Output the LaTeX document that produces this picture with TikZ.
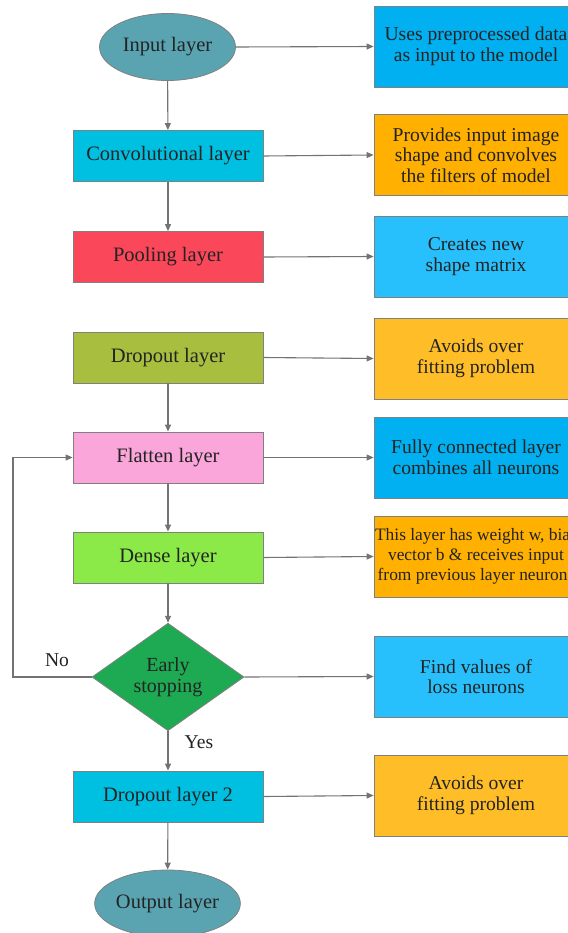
\documentclass[tikz,border=0pt]{standalone}
\usepackage{fontspec}
\setmainfont{Liberation Serif}
\usetikzlibrary{arrows.meta,shapes.geometric}
\definecolor{Teal}{RGB}{90,164,178}
\definecolor{Cyan}{RGB}{0,192,226}
\definecolor{Coral}{RGB}{250,72,90}
\definecolor{Olive}{RGB}{168,190,62}
\definecolor{Pink}{RGB}{250,166,218}
\definecolor{Lime}{RGB}{140,234,72}
\definecolor{Leaf}{RGB}{30,170,82}
\definecolor{SkyA}{RGB}{0,176,240}
\definecolor{SkyB}{RGB}{40,192,252}
\definecolor{Amber}{RGB}{255,176,0}
\definecolor{Honey}{RGB}{255,190,40}
\definecolor{Edge}{RGB}{128,128,128}
\definecolor{Wire}{RGB}{115,115,115}
\definecolor{Ink}{RGB}{35,35,35}

\begin{document}
\begin{tikzpicture}[x=1pt,y=-1pt,
    layerbox/.style={draw=Edge,line width=.8pt,minimum width=190pt,minimum height=51pt,
      inner sep=0pt,text=Ink,font=\rmfamily\fontsize{20.5}{21}\selectfont},
    layerend/.style={layerbox,ellipse,fill=Teal,minimum width=136pt,minimum height=67pt},
    decide/.style={layerbox,diamond,fill=Leaf,minimum width=152pt,minimum height=85pt,
      align=center,font=\rmfamily\fontsize{20}{20.5}\selectfont},
    notebox/.style={draw=Edge,line width=.8pt,minimum width=204pt,minimum height=81pt,
      inner sep=0pt,align=center,text=Ink,font=\rmfamily\fontsize{19.6}{20.5}\selectfont},
    flow/.style={draw=Wire,line width=1.1pt,-{Triangle[length=7pt,width=6pt]}}]
  \useasboundingbox (0,0) rectangle (567,933);

  % main column
  \node[layerend] (in) at (167.5,47) {Input layer};
  \node[layerbox,fill=Cyan] (conv) at (168,156) {Convolutional layer};
  \node[layerbox,fill=Coral] (pool) at (168,257) {Pooling layer};
  \node[layerbox,fill=Olive] (drop) at (168,357.5) {Dropout layer};
  \node[layerbox,fill=Pink] (flat) at (168,457.5) {Flatten layer};
  \node[layerbox,fill=Lime] (dense) at (168,557.5) {Dense layer};
  \node[decide] (stop) at (168,677) {Early\\stopping};
  \node[layerbox,fill=Cyan] (droptwo) at (168,796.5) {Dropout layer 2};
  \node[layerend] (out) at (167.5,903.5) {Output layer};

  % notes on the right
  \foreach \n/\y/\c/\t in {n1/46.5/SkyA/{Uses preprocessed data\\as input to the model},
      n2/155/Amber/{Provides input image\\shape and convolves\\the filters of model},
      n3/256.5/SkyB/{Creates new\\shape matrix},
      n4/358.5/Honey/{Avoids over\\fitting problem},
      n5/457.5/SkyA/{Fully connected layer\\combines all neurons},
      n7/676.5/SkyB/{Find values of\\loss neurons},
      n8/795.5/Honey/{Avoids over\\fitting problem}}
    \node[notebox,fill=\c] (\n) at (476,\y) {\t};
  \node[notebox,fill=Amber,font=\rmfamily\fontsize{17.4}{20}\selectfont] (n6) at (476,556.5)
    {This layer has weight w, bias\\vector b \& receives input\\from previous layer neurons};

  \foreach \a/\b in {in/n1,conv/n2,pool/n3,drop/n4,flat/n5,dense/n6,stop/n7,droptwo/n8}
    \draw[flow] (\a.east) -- (\b.west);
  \foreach \a/\b in {in/conv,conv/pool,drop/flat,flat/dense,dense/stop,stop/droptwo,droptwo/out}
    \draw[flow] (\a) -- (\b);

  % loop back when not stopping
  \coordinate (back) at (13,677);
  \draw[flow] (stop.west) -- (back) |- (flat.west);
  \node[text=Ink,font=\rmfamily\fontsize{19.6}{20}\selectfont] (no) at (57,660) {No};
  \node[text=Ink,font=\rmfamily\fontsize{19.6}{20}\selectfont] (yes) at (199,742) {Yes};
\end{tikzpicture}
\end{document}
